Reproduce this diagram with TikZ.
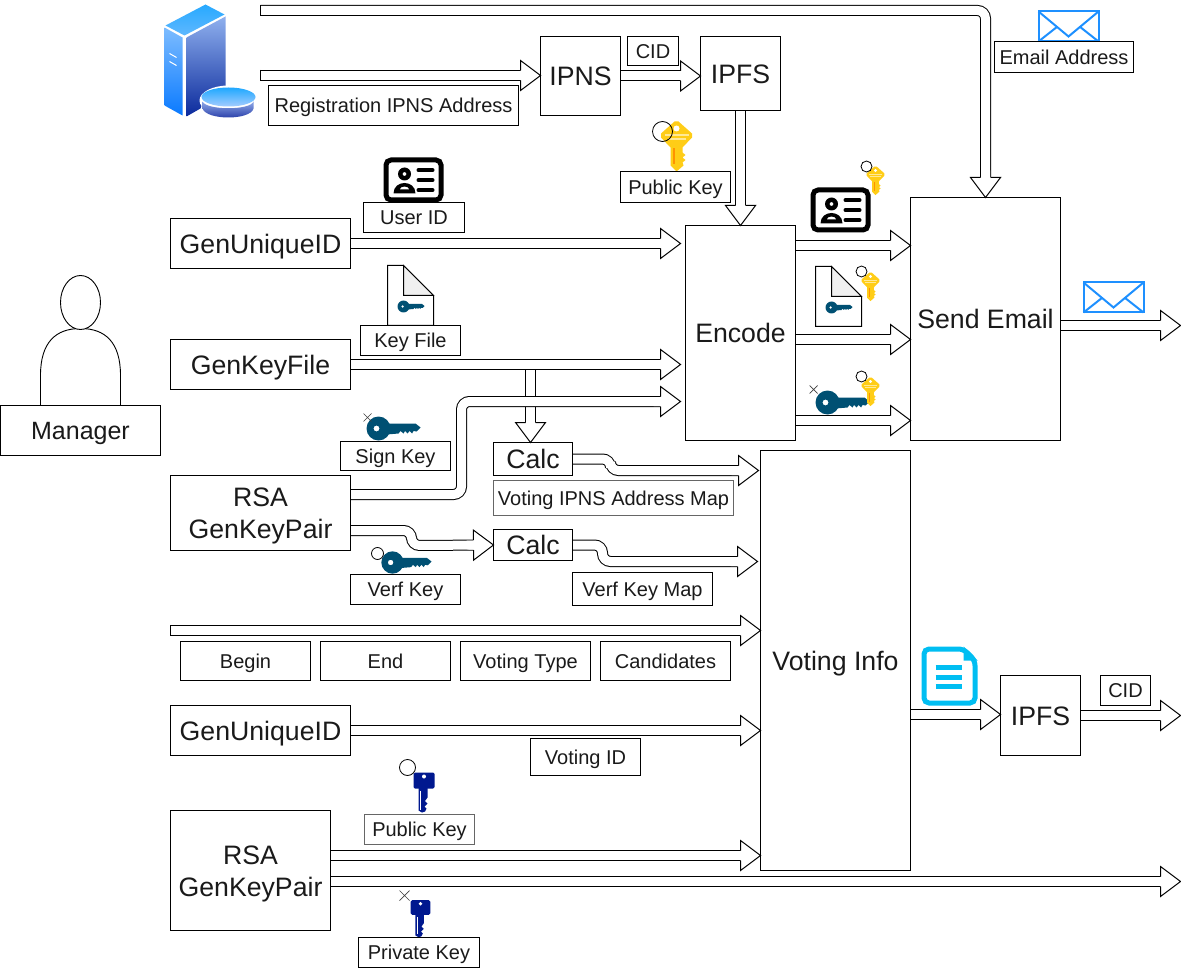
\documentclass[tikz,border=0pt]{standalone}
\usepackage{fontspec}
\setmainfont{Liberation Sans}
\usetikzlibrary{decorations.markings}
\definecolor{keyblue}{HTML}{005073}
\definecolor{keyyellow}{HTML}{FFCD17}
\definecolor{keynavy}{HTML}{00188F}
\definecolor{doccyan}{HTML}{00BEF2}
\definecolor{mailblue}{HTML}{1E90FF}
\definecolor{softline}{HTML}{666666}
\definecolor{inktext}{HTML}{1A1A1A}
\tikzset{
  twoline/.style={draw=black,fill=white,line width=1pt,inner sep=0pt,outer sep=0pt,anchor=north west,align=center,text=inktext,font=\fontsize{26.67}{32}\selectfont},
  bigbox/.style={twoline,text height=19.2pt,text depth=0pt},
  lbl/.style={draw=black,fill=white,line width=1pt,inner sep=0pt,outer sep=0pt,anchor=north west,align=center,text=inktext,font=\fontsize{20}{24}\selectfont,text height=14.4pt,text depth=0pt},
  softlbl/.style={lbl,draw=softline,line width=1.5pt},
  flex/.style={draw=black,line width=1pt,double=white,double distance=9pt,line cap=butt,shorten >=15pt,
    postaction={decorate,decoration={markings,
      mark=at position 0 with {\draw[sharp corners,shorten >=0pt,line width=1pt,black] (0,-5.5)--(0,5.5);},
      mark=at position 1 with {\filldraw[sharp corners,shorten >=0pt,line width=1pt,draw=black,fill=white,line join=miter] (-20,5)--(-20,15)--(0,0)--(-20,-15)--(-20,-5);\fill[white] (-22,-4.5) rectangle (-19,4.5);}}}},
  ring/.style={draw=black,line width=.8pt},
  cross/.style={draw=black!75,line width=.7pt},
  pics/bluekey/.style={code={
    \fill[keyblue,even odd rule] (0,0) circle[radius=12] (-2,0) circle[radius=3];
    \fill[keyblue] (8,-5)--(37,-5)--(42,-1)--(38,3)--(35,2.5)--(33.5,5)--(31,2.5)--(29,5)--(26.5,2.5)--(25,5)--(22,2.5)--(20,5)--(8,6)--cycle;
  }},
  pics/yellowkey/.style={code={
    \fill[keyyellow] (-2,-14)--(2,-14)--(15.5,-2)--(15.5,2)--(6,12)--(6,17)--(9,19.5)--(6,22)--(9,24.5)--(6,27)--(7,30)--(0,36)--(-6,30)--(-6,12)--(-15.5,2)--(-15.5,-2)--cycle;
    \fill[keyyellow!45!white] (-12,-1.5) rectangle (12,1);
    \fill[keyyellow!45!white] (-9,3) rectangle (9,5);
    \fill[orange!85!yellow] (-3.5,13) rectangle (-1.5,29);
    \fill[white] (0,-7) circle[radius=3];
  }},
  pics/navykey/.style={code={
    \fill[keynavy,rounded corners=1.5] (-10.5,-8) rectangle (10.5,8);
    \fill[keynavy] (-5.5,7)--(-5.5,30)--(-2,32)--(1,31)--(2.5,28)--(0.5,26)--(3.5,23)--(1,20.5)--(3.5,17)--(3.5,7)--cycle;
    \draw[white,line width=1pt] (-3.3,10)--(-3.3,29);
    \fill[white] (0,-4) circle[radius=2];
  }},
  pics/idcard/.style={code={
    \draw[black,line width=5pt,rounded corners=5] (2.5,2.5) rectangle (57.5,42.5);
    \fill[black,even odd rule] (21,16.5) circle[radius=6.5] (21,16.5) circle[radius=2];
    \fill[black,even odd rule] (10,36) .. controls (10,22) and (32,22) .. (32,36) -- cycle (16,32) .. controls (17,28) and (25,28) .. (26,32) -- cycle;
    \draw[black,line width=4pt,line cap=round] (35,12.7)--(49,12.7) (35,22.7)--(49,22.7) (35,32.7)--(49,32.7);
  }},
  pics/keyfile/.style={code={
    \draw[black,fill=white,line width=1pt] (0,0)--(16,0)--(46,30)--(46,60)--(0,60)--cycle;
    \filldraw[black,fill=black!6,line width=1pt] (16,0)--(16,30)--(46,30)--cycle;
    \pic[scale=.5] at (16,41) {bluekey};
  }},
  pics/envelope/.style={code={
    \draw[mailblue,line width=2pt] (0,0) rectangle (60,30);
    \draw[mailblue,line width=2pt] (0,0)--(30,25)--(60,0) (0,30)--(19,15) (60,30)--(41,15);
  }},
}
\begin{document}
\begin{tikzpicture}[x=1pt,y=-1pt]
\useasboundingbox (0,0) rectangle (1181,968);
\begin{scope}[shift={(0.5,0.5)}]
% manager figure
\draw[black,line width=.9pt,fill=white] (40,405)--(40,375) .. controls (40,342) and (55,328) .. (80,328) .. controls (105,328) and (120,342) .. (120,375) -- (120,405);
\draw[black,line width=.9pt,fill=white] (80,302) ellipse[x radius=20,y radius=27];
% server
\shade[top color={rgb,255:red,39;green,169;blue,255},bottom color={rgb,255:red,95;green,184;blue,255}] (205,4)--(224,14)--(184,35)--(165,25)--cycle;
\shade[top color={rgb,255:red,125;green,188;blue,255},bottom color={rgb,255:red,10;green,122;blue,255}] (164,27)--(182,37)--(182,115)--(164,105)--cycle;
\shade[top color={rgb,255:red,143;green,176;blue,238},bottom color={rgb,255:red,11;green,42;blue,156}] (186,37)--(225,16)--(225,86)--(205,95)--(200,108)--(186,116)--cycle;
\draw[white,line width=1pt] (169,53)--(176,57) (169,61)--(176,65);
\fill[white] (228,100) ellipse[x radius=29,y radius=15];
\shade[top color={rgb,255:red,142;green,168;blue,232},bottom color={rgb,255:red,26;green,47;blue,159}] (202,101)--(202,108) .. controls (206,120) and (250,120) .. (253,108) -- (253,101) .. controls (250,110) and (206,110) .. (202,101) -- cycle;
\shade[top color={rgb,255:red,31;green,168;blue,255},bottom color={rgb,255:red,163;green,204;blue,255}] (228,96.5) ellipse[x radius=27,y radius=9.5];
% icons
\pic at (1038,11) {envelope};
\pic at (1083,282) {envelope};
\pic at (676,135) {yellowkey};
\draw[ring] (662,131) circle[radius=10];
\pic at (383,157) {idcard};
\pic at (810,187) {idcard};
\pic[scale=.57] at (875,174) {yellowkey};
\draw[ring] (866,166) circle[radius=5.5];
\pic at (387,265) {keyfile};
\pic at (815,266) {keyfile};
\pic[scale=.57] at (870,280) {yellowkey};
\draw[ring] (861,271) circle[radius=5.5];
\pic at (827,402) {bluekey};
\draw[cross] (809,385)--(817,393) (809,393)--(817,385);
\pic[scale=.57] at (870,385) {yellowkey};
\draw[ring] (861,376) circle[radius=5.5];
\pic at (378,428) {bluekey};
\draw[cross] (363,413)--(371,421) (363,421)--(371,413);
\pic[scale=.93] at (392,562) {bluekey};
\draw[ring] (377,553) circle[radius=6];
\pic at (423.5,780) {navykey};
\draw[ring] (407,767) circle[radius=8];
\pic[scale=.93] at (420,907) {navykey};
\draw[cross] (399,890)--(409,900) (399,900)--(409,890);
% cyan document
\draw[doccyan,line width=5pt,rounded corners=5,fill=white] (923.5,648.5)--(963,648.5)--(974.5,660)--(974.5,702.5)--(923.5,702.5)--cycle;
\fill[doccyan] (963,646)--(977,660)--(963,660)--cycle;
\draw[doccyan,line width=5pt] (935,667)--(961,667) (935,677)--(961,677) (935,686)--(961,686);
% boxes
\node[lbl,minimum width=160,minimum height=50,font=\fontsize{25}{28}\selectfont,text height=18.4pt] (manager) at (0,405) {Manager};
\node[bigbox,minimum width=80,minimum height=79] (ipns) at (540,36) {IPNS};
\node[bigbox,minimum width=80,minimum height=74] (ipfsA) at (700,36) {IPFS};
\node[bigbox,minimum width=180,minimum height=50] (genA) at (170,218) {GenUniqueID};
\node[bigbox,minimum width=180,minimum height=50] (genfile) at (170,339) {GenKeyFile};
\node[twoline,minimum width=180,minimum height=75] (rsaA) at (170,475) {\rule{0pt}{25pt}RSA\\GenKeyPair};
\node[bigbox,minimum width=180,minimum height=50] (genB) at (170,705) {GenUniqueID};
\node[twoline,minimum width=160,minimum height=120] (rsaB) at (170,810) {\rule{0pt}{25pt}RSA\\GenKeyPair};
\node[bigbox,minimum width=110,minimum height=215] (enc) at (685,225) {Encode};
\node[bigbox,minimum width=150,minimum height=243] (send) at (910,197) {Send Email};
\node[bigbox,minimum width=150,minimum height=420] (vi) at (760,450) {Voting Info};
\node[bigbox,minimum width=80,minimum height=80] (ipfsB) at (1000,675) {IPFS};
\node[bigbox,minimum width=79,minimum height=33] (calcA) at (493,442) {Calc};
\node[bigbox,minimum width=79,minimum height=31] (calcB) at (493,529) {Calc};
\node[lbl,minimum width=250,minimum height=40] (regaddr) at (268,85) {Registration IPNS Address};
\node[lbl,minimum width=51,minimum height=29] (cidA) at (627,36) {CID};
\node[lbl,minimum width=139,minimum height=31] (email) at (994,41) {Email Address};
\node[lbl,minimum width=110,minimum height=31] (pubA) at (620,171) {Public Key};
\node[lbl,minimum width=101,minimum height=30] (userid) at (363,202) {User ID};
\node[lbl,minimum width=100,minimum height=30] (keyfile) at (360,325) {Key File};
\node[lbl,minimum width=110,minimum height=29] (signkey) at (340,441) {Sign Key};
\node[softlbl,minimum width=240,minimum height=35] (ipnsmap) at (493,480) {Voting IPNS Address Map};
\node[lbl,minimum width=110,minimum height=30] (verfkey) at (350,574) {Verf Key};
\node[lbl,minimum width=140,minimum height=33] (verfmap) at (572,572) {Verf Key Map};
\node[lbl,minimum width=130,minimum height=39] (begin) at (180,641) {Begin};
\node[lbl,minimum width=130,minimum height=39] (endt) at (320,641) {End};
\node[lbl,minimum width=130,minimum height=39] (vtype) at (460,641) {Voting Type};
\node[lbl,minimum width=130,minimum height=39] (cand) at (600,641) {Candidates};
\node[lbl,minimum width=110,minimum height=37] (voteid) at (530,738) {Voting ID};
\node[softlbl,minimum width=110,minimum height=30] (pubB) at (364,814) {Public Key};
\node[lbl,minimum width=121,minimum height=30] (privkey) at (358,937) {Private Key};
\node[lbl,minimum width=50,minimum height=30] (cidB) at (1100,675) {CID};
% free ends
\coordinate (mailstart) at (260,10);
\coordinate (regstart) at (260,75);
\coordinate (sendout) at (1180,325);
\coordinate (fileout) at (530,369);
\coordinate (manualin) at (170,630);
\coordinate (cidout) at (1180,715);
\coordinate (keyout) at (1180,881);
% connectors
\draw[flex,rounded corners=8] (mailstart) -| (send.north);
\draw[flex] (regstart) -- (ipns.west |- regstart);
\draw[flex] (ipns.east) -- (ipfsA.west |- ipns.east);
\draw[flex] (ipfsA.south -| enc.north) -- (enc.north);
\draw[flex] (genA.east) -- ([xshift=-5]enc.west |- genA.east);
\draw[flex] (genfile.east) -- ([xshift=-5]enc.west |- genfile.east);
\draw[flex] (fileout) -- (calcA.north -| fileout);
\draw[flex,rounded corners=8] (rsaA.east |- 0,494) -- (461,494) -- (461,401) -- ([xshift=-5]enc.west |- 0,401);
\draw[flex,rounded corners=8] (rsaA.east |- 0,530) -- (411,530) -- (411,545) -- (calcB.west);
\draw[flex,rounded corners=8] (calcA.east) -- (610,458.5) -- (610,470) -- ([xshift=-2]vi.west |- 0,470);
\draw[flex,rounded corners=8] (calcB.east) -- (602,544.5) -- (602,561) -- ([xshift=-3]vi.west |- 0,561);
\draw[flex] (manualin) -- (vi.west |- manualin);
\draw[flex] (genB.east) -- (vi.west |- genB.east);
\draw[flex] (rsaB.east |- 0,855) -- (vi.west |- 0,855);
\draw[flex] (rsaB.east |- keyout) -- (keyout);
\draw[flex] (enc.east |- 0,245) -- (send.west |- 0,245);
\draw[flex] (enc.east |- 0,339) -- (send.west |- 0,339);
\draw[flex] (enc.east |- 0,420) -- (send.west |- 0,420);
\draw[flex] (send.east |- sendout) -- (sendout);
\draw[flex] (vi.east |- 0,714) -- (ipfsB.west |- 0,714);
\draw[flex] (ipfsB.east) -- (cidout);
\end{scope}
\end{tikzpicture}
\end{document}
